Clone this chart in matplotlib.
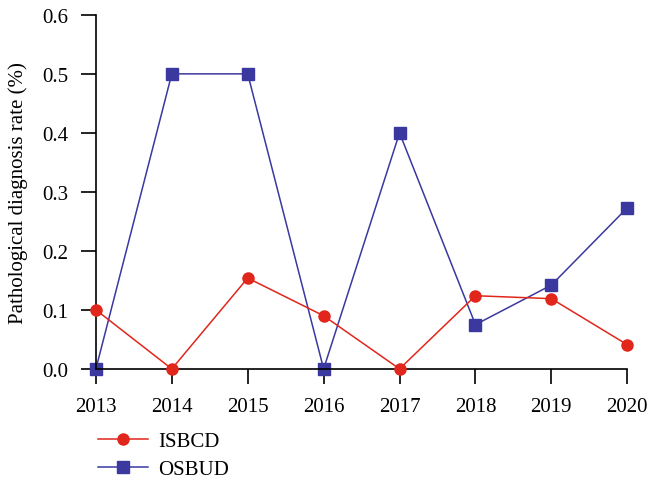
import numpy as np
import matplotlib.pyplot as plt

plt.rcParams['font.family'] = ['Liberation Serif', 'DejaVu Serif']

years = [2013, 2014, 2015, 2016, 2017, 2018, 2019, 2020]
isbcd = [0.100, 0.0, 0.154, 0.090, 0.0, 0.124, 0.119, 0.041]
osbud = [0.0, 0.5, 0.5, 0.0, 0.4, 0.075, 0.142, 0.273]

fig = plt.figure(figsize=(6.48, 4.81), dpi=100)
ax = fig.add_axes([0.148, 0.231, 0.820, 0.736])

l1, = ax.plot(years, isbcd, color='#E1261C', marker='o', markersize=8, lw=1.1, label='ISBCD', zorder=3)
l2, = ax.plot(years, osbud, color='#3B38A0', marker='s', markersize=8, lw=1.1, label='OSBUD', zorder=2)

ax.set_xlim(2013, 2020)
ax.set_ylim(0, 0.6)
ax.set_xticks(years)
ax.set_yticks(np.arange(0, 0.61, 0.1))
ax.set_yticklabels(['0.0', '0.1', '0.2', '0.3', '0.4', '0.5', '0.6'])
ax.spines['top'].set_visible(False)
ax.spines['right'].set_visible(False)
for s in ['left', 'bottom']:
    ax.spines[s].set_linewidth(1.2)
ax.tick_params(axis='both', labelsize=15, length=11, width=1.2, direction='out', pad=9)
ax.set_ylabel('Pathological diagnosis rate (%)', fontsize=15, labelpad=10)
for l in [l1, l2]:
    l.set_clip_on(False)

fig.legend(handles=[l1, l2], loc='upper left', bbox_to_anchor=(0.138, 0.118),
           frameon=False, fontsize=15, handlelength=2.4, labelspacing=0.4,
           borderaxespad=0, handletextpad=0.5)

fig.savefig('out.png', dpi=100)
